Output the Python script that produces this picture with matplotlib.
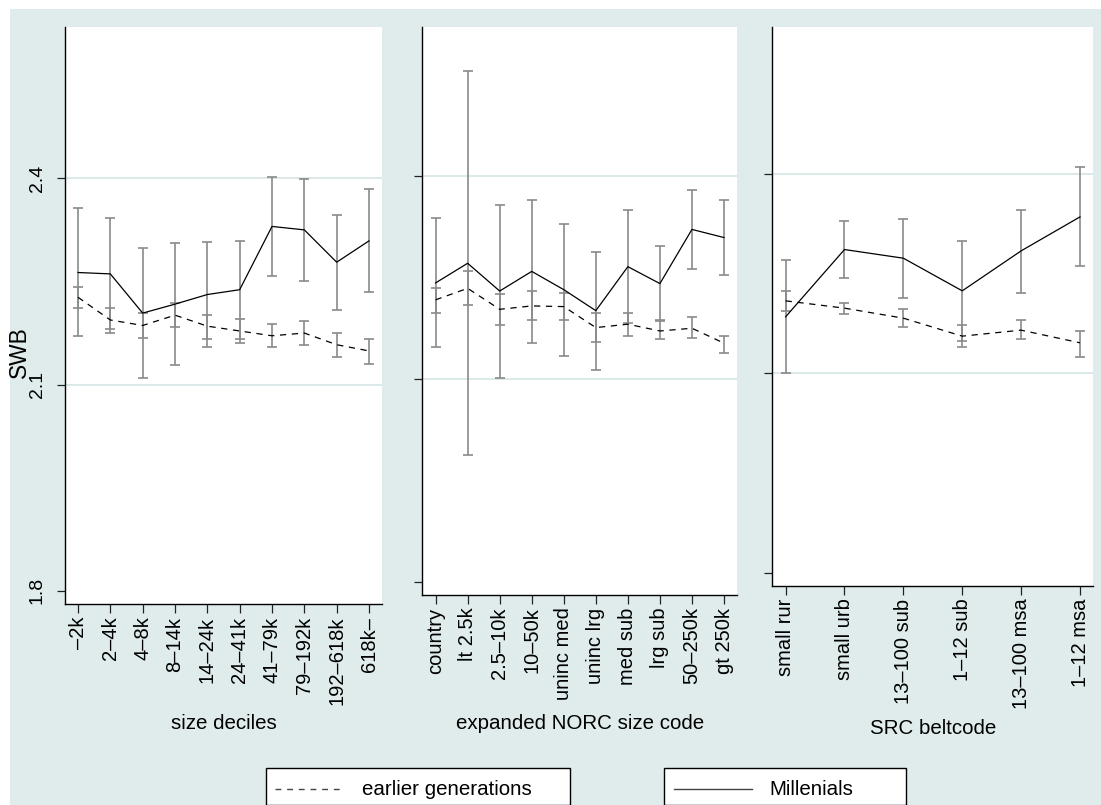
import numpy as np
import matplotlib
matplotlib.use('Agg')
import matplotlib.pyplot as plt
from matplotlib.patches import Rectangle
from matplotlib.lines import Line2D

plt.rcParams['font.family'] = ['Liberation Sans', 'DejaVu Sans']

# size deciles panel
dec_labels = ['–2k', '2–4k', '4–8k', '8–14k', '14–24k', '24–41k', '41–79k', '79–192k', '192–618k', '618k–']
dec_mill = [2.263, 2.261, 2.204, 2.217, 2.231, 2.238, 2.330, 2.325, 2.278, 2.309]
dec_mill_lo = [2.170, 2.175, 2.109, 2.128, 2.155, 2.167, 2.258, 2.251, 2.208, 2.234]
dec_mill_hi = [2.357, 2.342, 2.298, 2.306, 2.308, 2.309, 2.402, 2.399, 2.346, 2.384]
dec_early = [2.227, 2.194, 2.186, 2.201, 2.185, 2.178, 2.171, 2.175, 2.158, 2.149]
dec_early_lo = [2.212, 2.181, 2.168, 2.184, 2.167, 2.161, 2.154, 2.158, 2.140, 2.130]
dec_early_hi = [2.242, 2.212, 2.204, 2.218, 2.201, 2.195, 2.188, 2.193, 2.175, 2.167]

# expanded NORC size code panel
norc_labels = ['country', 'lt 2.5k', '2.5–10k', '10–50k', 'uninc med', 'uninc lrg',
               'med sub', 'lrg sub', '50–250k', 'gt 250k']
norc_mill = [2.242, 2.271, 2.230, 2.259, 2.232, 2.201, 2.266, 2.241, 2.321, 2.309]
norc_mill_lo = [2.148, 1.988, 2.101, 2.153, 2.134, 2.113, 2.183, 2.187, 2.263, 2.253]
norc_mill_hi = [2.338, 2.555, 2.357, 2.364, 2.329, 2.288, 2.349, 2.296, 2.379, 2.364]
norc_early = [2.217, 2.234, 2.203, 2.208, 2.207, 2.176, 2.181, 2.171, 2.175, 2.153]
norc_early_lo = [2.198, 2.210, 2.180, 2.187, 2.187, 2.154, 2.164, 2.159, 2.161, 2.138]
norc_early_hi = [2.234, 2.260, 2.225, 2.230, 2.227, 2.198, 2.198, 2.185, 2.191, 2.164]

# SRC beltcode panel
belt_labels = ['small rur', 'small urb', '13–100 sub', '1–12 sub', '13–100 msa', '1–12 msa']
belt_mill = [2.185, 2.286, 2.273, 2.224, 2.284, 2.335]
belt_mill_lo = [2.100, 2.243, 2.213, 2.148, 2.221, 2.262]
belt_mill_hi = [2.270, 2.329, 2.332, 2.299, 2.346, 2.410]
belt_early = [2.209, 2.198, 2.183, 2.156, 2.165, 2.146]
belt_early_lo = [2.194, 2.189, 2.169, 2.140, 2.151, 2.124]
belt_early_hi = [2.224, 2.206, 2.196, 2.173, 2.180, 2.164]

yticks = [1.8, 2.1, 2.4]

W, H = 1101, 805
BG = '#e0ecec'
GRID = '#d6e5e5'
BARC = '#8a8a8a'

fig = plt.figure(figsize=(W / 100, H / 100), dpi=100)
fig.patch.set_facecolor('white')


def px_rect(x0, y0, x1, y1):
    return [x0 / W, 1 - y1 / H, (x1 - x0) / W, (y1 - y0) / H]


fig.add_artist(Rectangle((10 / W, 0), 1, 1 - 9 / H, transform=fig.transFigure,
                         facecolor=BG, edgecolor='none', zorder=-10))

panels = [
    (dec_labels, dec_mill, dec_mill_lo, dec_mill_hi, dec_early, dec_early_lo, dec_early_hi,
     (64.7, 382.3, 604), 'size deciles', 723),
    (norc_labels, norc_mill, norc_mill_lo, norc_mill_hi, norc_early, norc_early_lo, norc_early_hi,
     (422.3, 737.3, 595), 'expanded NORC size code', 723),
    (belt_labels, belt_mill, belt_mill_lo, belt_mill_hi, belt_early, belt_early_lo, belt_early_hi,
     (772.3, 1093.3, 586), 'SRC beltcode', 728),
]

for i, (labels, m, mlo, mhi, e, elo, ehi, (x0, x1, yb), title, ty) in enumerate(panels):
    ax = fig.add_axes(px_rect(x0, 27, x1, yb))
    ax.set_facecolor('white')
    n = len(labels)
    x = np.arange(1, n + 1)
    m, mlo, mhi = np.array(m), np.array(mlo), np.array(mhi)
    e, elo, ehi = np.array(e), np.array(elo), np.array(ehi)

    for g in [2.1, 2.4]:
        ax.axhline(g, color=GRID, lw=1.2, zorder=0)

    ax.errorbar(x, e, yerr=[e - elo, ehi - e], fmt='none', ecolor=BARC,
                elinewidth=1.2, capsize=3.6, capthick=1.2, zorder=2)
    ax.errorbar(x, m, yerr=[m - mlo, mhi - m], fmt='none', ecolor=BARC,
                elinewidth=1.2, capsize=3.6, capthick=1.2, zorder=2)
    ax.plot(x, e, color='black', lw=0.9, linestyle=(0, (5, 4.5)), zorder=3)
    ax.plot(x, m, color='black', lw=0.9, zorder=3)

    pad = 13.3 / ((x1 - x0 - 26.6) / (n - 1))
    ax.set_xlim(1 - pad, n + pad)
    ax.set_ylim(1.781, 2.62)
    ax.set_xticks(x)
    ax.set_xticklabels(labels, rotation=90, fontsize=14.5)
    ax.set_yticks(yticks)
    if i == 0:
        ax.set_yticklabels(['1.8', '2.1', '2.4'], rotation=90, va='center', fontsize=14)
    else:
        ax.set_yticklabels([])
    ax.tick_params(axis='x', length=6.5, width=0.9, pad=2.5, color='#222222')
    ax.tick_params(axis='y', length=5.5, width=0.9, pad=8, color='#222222')
    for s in ['top', 'right']:
        ax.spines[s].set_visible(False)
    for s in ['left', 'bottom']:
        ax.spines[s].set_linewidth(1.0)
        ax.spines[s].set_color('black')

    fig.text((x0 + x1) / 2 / W, 1 - ty / H, title, ha='center', va='center', fontsize=14.8)

fig.text(19 / W, 1 - 352 / H, 'SWB', rotation=90, ha='center', va='center', fontsize=16.4)

# legend boxes (Stata style, one box per key)
def legend_box(bx0, bx1, lx0, lx1, tx, label, style):
    fig.add_artist(Rectangle((bx0 / W, 0), (bx1 - bx0) / W, 1 - 768 / H,
                             transform=fig.transFigure, facecolor='white',
                             edgecolor='black', lw=1.0, zorder=5))
    fig.add_artist(Line2D([lx0 / W, lx1 / W], [1 - 789 / H, 1 - 789 / H],
                          transform=fig.transFigure, color='#444444', lw=1.0,
                          linestyle=style, zorder=6))
    fig.text(tx / W, 1 - 789 / H, label, ha='left', va='center', fontsize=14.8, zorder=7)


legend_box(265.7, 570, 275, 345, 362, 'earlier generations', (0, (4.2, 4.2)))
legend_box(664, 905.7, 674, 752, 769, 'Millenials', '-')

fig.savefig('out.png', dpi=100, facecolor='white')
